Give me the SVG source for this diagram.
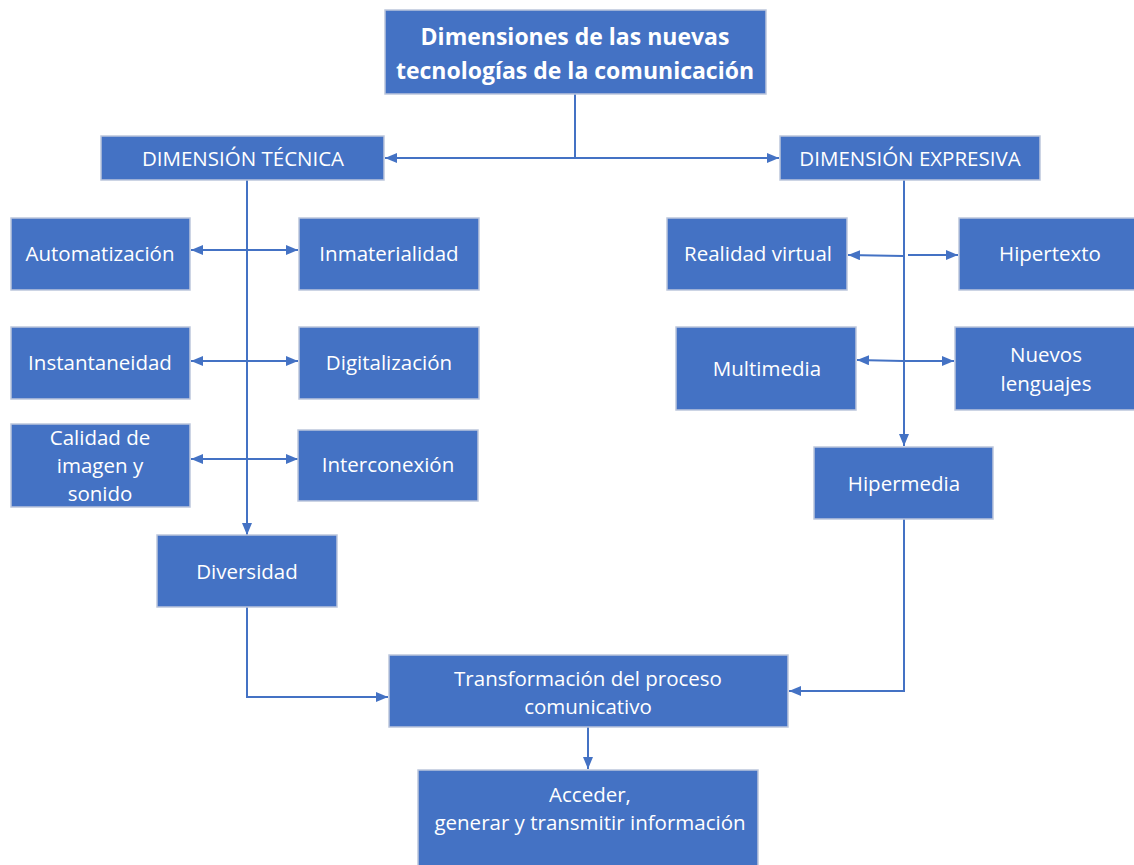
<svg xmlns="http://www.w3.org/2000/svg" width="1134" height="865" viewBox="0 0 1134 865">
<style>
.box{fill:#4472C4;stroke:#BCC6DC;stroke-width:1.5}
.t{fill:#ffffff;font-family:"Open Sans","Liberation Sans",sans-serif;font-size:20.5px;text-anchor:middle;dominant-baseline:central}
.tb{font-weight:bold;font-size:23px}
.c{fill:none;stroke:#4472C4;stroke-width:2}
</style>
<defs>
<marker id="ah" viewBox="0 0 12 10" refX="12" refY="5" markerWidth="12" markerHeight="10" markerUnits="userSpaceOnUse" orient="auto-start-reverse">
<path d="M0,0 L12,5 L0,10 z" fill="#4472C4"/>
</marker>
</defs>
<g id="connectors">
<path class="c" d="M575,94 V158"/>
<path class="c" d="M575,158 H385" marker-end="url(#ah)"/>
<path class="c" d="M575,158 H779" marker-end="url(#ah)"/>
<path class="c" d="M247,180 V535" marker-end="url(#ah)"/>
<path class="c" d="M191,250 H298" marker-start="url(#ah)" marker-end="url(#ah)"/>
<path class="c" d="M191,361 H298" marker-start="url(#ah)" marker-end="url(#ah)"/>
<path class="c" d="M191,459 H298" marker-start="url(#ah)" marker-end="url(#ah)"/>
<path class="c" d="M904,180 V446" marker-end="url(#ah)"/>
<path class="c" d="M903,256 L848,255" marker-end="url(#ah)"/>
<path class="c" d="M908,255 H958" marker-end="url(#ah)"/>
<path class="c" d="M903,361 L857,360" marker-end="url(#ah)"/>
<path class="c" d="M904,361 H954" marker-end="url(#ah)"/>
<path class="c" d="M247,607 V697 H388" marker-end="url(#ah)"/>
<path class="c" d="M904,519 V691 H789" marker-end="url(#ah)"/>
<path class="c" d="M588,727 V769" marker-end="url(#ah)"/>
</g>
<g id="n-title"><rect class="box" x="385" y="10" width="381" height="84"/>
<text class="t tb" x="575" y="36">Dimensiones de las nuevas</text>
<text class="t tb" x="575" y="70">tecnologías de la comunicación</text></g>
<g id="n-tecnica"><rect class="box" x="101" y="136" width="283" height="44"/><text class="t" x="243" y="158">DIMENSIÓN TÉCNICA</text></g>
<g id="n-expresiva"><rect class="box" x="780" y="136" width="260" height="44"/><text class="t" x="910" y="158">DIMENSIÓN EXPRESIVA</text></g>
<g id="n-automatizacion"><rect class="box" x="11" y="218" width="179" height="72"/><text class="t" x="100" y="253">Automatización</text></g>
<g id="n-inmaterialidad"><rect class="box" x="299" y="218" width="180" height="72"/><text class="t" x="389" y="253">Inmaterialidad</text></g>
<g id="n-instantaneidad"><rect class="box" x="11" y="327" width="179" height="72"/><text class="t" x="100" y="362">Instantaneidad</text></g>
<g id="n-digitalizacion"><rect class="box" x="299" y="327" width="180" height="72"/><text class="t" x="389" y="362">Digitalización</text></g>
<g id="n-calidad"><rect class="box" x="11" y="424" width="179" height="83"/>
<text class="t" x="100" y="437">Calidad de</text><text class="t" x="100" y="465">imagen y</text><text class="t" x="100" y="493">sonido</text></g>
<g id="n-interconexion"><rect class="box" x="298" y="430" width="180" height="71"/><text class="t" x="388" y="464">Interconexión</text></g>
<g id="n-diversidad"><rect class="box" x="157" y="535" width="180" height="72"/><text class="t" x="247" y="571">Diversidad</text></g>
<g id="n-realidad"><rect class="box" x="667" y="218" width="180" height="72"/><text class="t" x="758" y="253">Realidad virtual</text></g>
<g id="n-hipertexto"><rect class="box" x="959" y="218" width="180" height="72"/><text class="t" x="1050" y="253">Hipertexto</text></g>
<g id="n-multimedia"><rect class="box" x="676" y="327" width="180" height="83"/><text class="t" x="767" y="368">Multimedia</text></g>
<g id="n-nuevos"><rect class="box" x="955" y="327" width="184" height="83"/><text class="t" x="1046" y="354">Nuevos</text><text class="t" x="1046" y="383">lenguajes</text></g>
<g id="n-hipermedia"><rect class="box" x="814" y="447" width="179" height="72"/><text class="t" x="904" y="483">Hipermedia</text></g>
<g id="n-transformacion"><rect class="box" x="389" y="655" width="399" height="72"/><text class="t" x="588" y="678">Transformación del proceso</text><text class="t" x="588" y="706">comunicativo</text></g>
<g id="n-acceder"><rect class="box" x="418" y="770" width="340" height="100"/><text class="t" x="590" y="794">Acceder,</text><text class="t" x="590" y="822">generar y transmitir información</text></g>
</svg>
